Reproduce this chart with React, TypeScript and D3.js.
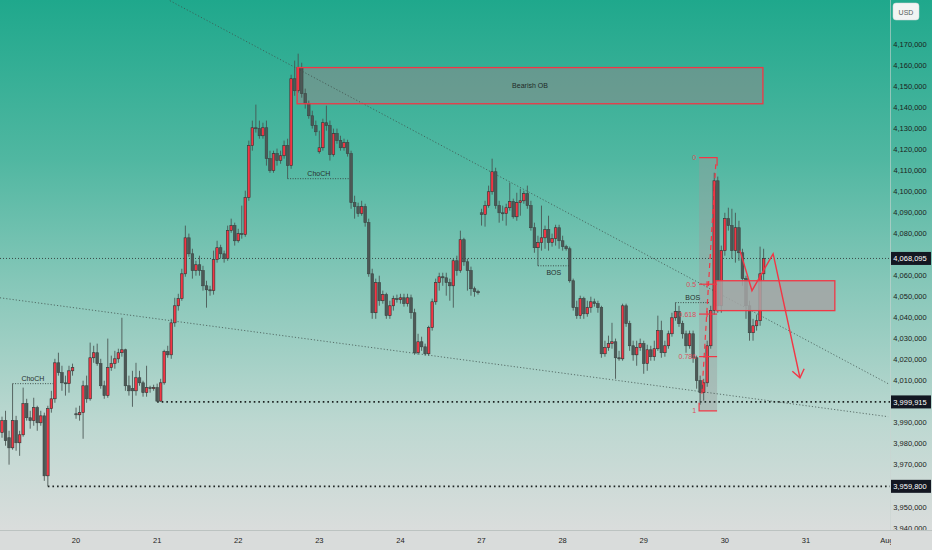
import * as d3 from "d3";
import React, { useRef, useEffect } from "react";

const width = 932;
const height = 550;
const plotRight = 890;
const plotBottom = 530;

// 1H candles, [open, high, low, close]
const day17 = [
  [3985.3, 3992.9, 3982.9, 3991.0], [3991.0, 3995.7, 3979.1, 3981.5], [3982.9, 3986.2, 3970.1, 3978.1],
  [3978.1, 4008.6, 3977.2, 3991.0], [3991.0, 3993.3, 3976.7, 3980.5], [3980.5, 3986.2, 3974.3, 3984.3],
  [3984.3, 4006.7, 3983.4, 3999.1], [3999.1, 4001.4, 3991.0, 3992.4], [3992.4, 3995.7, 3987.2, 3991.0],
  [3991.0, 4001.9, 3988.6, 3997.2], [3997.2, 3998.1, 3986.2, 3990.0], [3990.0, 3995.7, 3988.6, 3993.3],
  [3993.3, 3994.8, 3962.4, 3964.8], [3964.8, 3998.1, 3959.8, 3996.7], [3996.7, 4005.2, 3994.8, 4001.4],
  [4001.4, 4020.4, 3999.5, 4018.5], [4018.5, 4023.3, 4012.4, 4013.8], [4013.8, 4017.1, 4005.2, 4009.0],
  [4009.0, 4012.4, 4002.9, 4008.6], [4008.6, 4017.1, 4004.3, 4014.7], [4014.7, 4018.1, 4012.4, 4016.2],
];
const day20 = [
  [3994.3, 3997.2, 3991.9, 3993.8], [3993.8, 3998.1, 3991.0, 3994.8], [3994.8, 4010.0, 3982.4, 4007.6],
  [4007.6, 4012.4, 3999.5, 4001.4], [4001.4, 4028.1, 4000.5, 4020.9], [4020.9, 4026.6, 4018.5, 4023.3],
  [4023.3, 4027.6, 4017.1, 4018.1], [4018.1, 4020.4, 4006.2, 4007.6], [4007.6, 4010.0, 4001.4, 4002.9],
  [4002.9, 4030.0, 4001.9, 4016.2], [4016.2, 4021.9, 4014.7, 4018.1], [4018.1, 4024.2, 4015.7, 4020.4],
  [4020.4, 4025.2, 4018.5, 4023.3], [4023.3, 4039.9, 4021.4, 4024.7], [4024.7, 4025.2, 4005.2, 4007.6],
  [4007.6, 4012.4, 4002.9, 4005.2], [4006.2, 4014.7, 3997.6, 4005.2], [4005.2, 4018.5, 4002.9, 4011.4],
  [4011.4, 4014.7, 4007.6, 4009.0], [4009.0, 4010.0, 4002.4, 4004.3], [4004.3, 4017.1, 4002.4, 4006.7],
  [4006.7, 4007.6, 4004.3, 4006.2], [4006.2, 4008.1, 4005.2, 4006.7],
];
const day21 = [
  [4006.7, 4008.6, 3999.9, 4000.3], [4000.3, 4010.9, 4000.0, 4009.0], [4009.0, 4024.7, 4008.1, 4023.8],
  [4023.8, 4026.6, 4020.9, 4022.3], [4022.3, 4039.4, 4020.4, 4037.5], [4037.5, 4049.4, 4035.6, 4045.6],
  [4045.6, 4051.3, 4043.3, 4049.0], [4049.0, 4063.2, 4048.0, 4060.8], [4060.8, 4083.7, 4059.4, 4077.9],
  [4077.9, 4079.9, 4068.9, 4070.3], [4070.3, 4072.7, 4058.5, 4062.3], [4062.3, 4067.0, 4059.9, 4065.1],
  [4065.1, 4069.4, 4059.9, 4062.3], [4062.3, 4064.6, 4052.8, 4055.1], [4055.1, 4057.5, 4044.7, 4053.2],
  [4053.2, 4055.1, 4050.4, 4052.8], [4052.8, 4071.8, 4050.9, 4067.5], [4067.5, 4076.5, 4066.1, 4073.2],
  [4073.2, 4074.6, 4068.0, 4070.3], [4070.3, 4071.8, 4066.1, 4068.0], [4068.0, 4083.7, 4067.0, 4081.3],
  [4081.3, 4087.0, 4080.3, 4083.7], [4083.7, 4085.1, 4074.2, 4076.5],
];
const day22 = [
  [4076.5, 4082.2, 4075.6, 4079.9], [4079.9, 4093.2, 4077.5, 4079.4], [4079.4, 4100.3, 4078.4, 4097.0],
  [4097.0, 4124.1, 4095.5, 4121.7], [4121.7, 4133.6, 4119.3, 4130.2], [4130.2, 4141.2, 4127.9, 4129.8],
  [4129.8, 4133.6, 4125.0, 4126.4], [4126.4, 4132.6, 4125.0, 4130.2], [4130.2, 4133.6, 4112.2, 4115.5],
  [4115.5, 4119.3, 4108.8, 4109.8], [4109.8, 4119.3, 4108.8, 4117.9], [4117.9, 4120.3, 4112.2, 4114.6],
  [4114.6, 4119.3, 4113.1, 4116.9], [4116.9, 4124.1, 4115.5, 4121.7], [4121.7, 4125.0, 4106.0, 4112.2],
  [4112.2, 4155.4, 4110.7, 4153.5], [4153.5, 4162.1, 4145.4, 4147.8], [4147.8, 4165.4, 4146.9, 4158.8],
  [4158.8, 4161.1, 4144.5, 4146.4], [4146.4, 4148.8, 4139.3, 4141.6], [4141.6, 4143.1, 4134.5, 4135.9],
  [4135.9, 4138.3, 4129.8, 4131.2], [4131.2, 4133.6, 4126.4, 4128.3],
];
const day23 = [
  [4118.8, 4128.8, 4117.9, 4120.7], [4120.7, 4134.5, 4119.3, 4132.6], [4132.6, 4140.7, 4128.8, 4131.2],
  [4131.2, 4133.6, 4114.6, 4117.4], [4117.4, 4129.8, 4116.5, 4127.4], [4127.4, 4129.8, 4122.6, 4124.1],
  [4124.1, 4126.4, 4119.3, 4120.7], [4120.7, 4125.0, 4119.3, 4123.1], [4123.1, 4124.5, 4116.5, 4117.9],
  [4117.9, 4119.3, 4091.7, 4094.6], [4094.6, 4097.9, 4087.0, 4092.7], [4092.7, 4094.6, 4087.9, 4089.4],
  [4089.4, 4095.5, 4088.4, 4092.7], [4092.7, 4094.1, 4083.2, 4085.1], [4085.1, 4087.0, 4059.4, 4060.8],
  [4060.8, 4063.2, 4039.4, 4042.3], [4042.3, 4058.5, 4039.4, 4056.6], [4056.6, 4059.9, 4045.6, 4048.0],
  [4048.0, 4052.8, 4046.6, 4050.9], [4050.9, 4051.8, 4039.4, 4040.9], [4040.9, 4048.0, 4039.4, 4045.6],
  [4045.6, 4050.4, 4043.3, 4049.0], [4049.0, 4050.9, 4047.1, 4048.5],
];
const day24 = [
  [4048.5, 4051.3, 4046.6, 4049.4], [4049.4, 4051.3, 4045.2, 4046.6], [4046.6, 4051.3, 4045.2, 4049.4],
  [4049.4, 4050.9, 4039.4, 4042.3], [4042.3, 4044.2, 4022.3, 4023.3], [4023.3, 4032.3, 4022.3, 4028.5],
  [4028.5, 4030.9, 4024.2, 4026.1], [4026.1, 4027.6, 4021.9, 4022.8], [4022.8, 4036.1, 4021.9, 4035.2],
  [4035.2, 4049.0, 4033.8, 4047.5], [4047.5, 4058.5, 4046.1, 4056.6], [4056.6, 4061.3, 4052.8, 4059.4],
  [4059.4, 4061.3, 4055.1, 4058.9], [4058.9, 4061.3, 4050.4, 4056.6], [4056.6, 4058.5, 4048.0, 4055.1],
  [4055.1, 4068.0, 4044.7, 4067.0], [4067.0, 4069.4, 4059.9, 4062.3], [4062.3, 4081.3, 4061.3, 4077.0],
  [4077.0, 4077.9, 4064.6, 4066.5], [4066.5, 4068.0, 4052.8, 4062.3], [4062.3, 4064.2, 4050.4, 4053.7],
  [4053.7, 4054.7, 4049.9, 4052.3], [4052.3, 4053.2, 4050.9, 4051.8],
];
const day27 = [
  [4089.8, 4091.7, 4083.7, 4088.9], [4088.9, 4095.5, 4083.2, 4093.2], [4093.2, 4102.7, 4092.2, 4099.8],
  [4099.8, 4115.5, 4098.4, 4109.3], [4109.3, 4111.2, 4091.7, 4093.2], [4093.2, 4095.5, 4085.1, 4089.8],
  [4089.8, 4093.2, 4086.0, 4089.4], [4089.4, 4094.1, 4083.7, 4092.2], [4092.2, 4104.1, 4090.8, 4095.1],
  [4095.1, 4096.5, 4087.0, 4087.9], [4087.9, 4099.3, 4086.0, 4094.6], [4094.6, 4101.2, 4088.4, 4095.5],
  [4095.5, 4100.3, 4094.1, 4098.9], [4098.9, 4102.7, 4091.7, 4093.2], [4093.2, 4095.5, 4081.3, 4082.7],
  [4082.7, 4085.1, 4070.8, 4073.2], [4073.2, 4078.9, 4064.6, 4075.6], [4075.6, 4093.2, 4071.8, 4077.9],
  [4077.9, 4083.7, 4072.7, 4081.8], [4081.8, 4088.4, 4071.8, 4075.6], [4075.6, 4079.9, 4073.7, 4077.5],
  [4077.5, 4084.1, 4074.2, 4082.7], [4082.7, 4084.1, 4072.7, 4076.5],
];
const day28 = [
  [4076.5, 4078.9, 4071.8, 4073.7], [4073.7, 4074.6, 4071.8, 4072.7], [4072.7, 4073.7, 4056.6, 4057.5],
  [4057.5, 4058.5, 4043.3, 4044.7], [4044.7, 4048.0, 4039.4, 4040.9], [4040.9, 4050.4, 4039.4, 4049.0],
  [4049.0, 4049.9, 4039.4, 4041.8], [4041.8, 4048.0, 4040.4, 4044.7], [4044.7, 4049.9, 4042.3, 4047.5],
  [4047.5, 4049.0, 4045.2, 4046.6], [4046.6, 4048.0, 4042.3, 4044.7], [4044.7, 4045.6, 4020.9, 4022.8],
  [4022.8, 4029.0, 4021.4, 4025.7], [4025.7, 4031.4, 4024.2, 4027.6], [4027.6, 4037.5, 4025.2, 4028.5],
  [4028.5, 4030.0, 4010.9, 4020.9], [4020.9, 4024.2, 4019.5, 4020.4], [4020.4, 4046.6, 4019.5, 4045.6],
  [4045.6, 4046.6, 4035.6, 4037.1], [4037.1, 4038.5, 4024.2, 4026.6], [4026.6, 4029.0, 4019.5, 4022.3],
  [4022.3, 4029.0, 4017.1, 4025.7], [4025.7, 4030.0, 4024.2, 4027.6],
];
const day29 = [
  [4027.6, 4029.0, 4013.3, 4018.1], [4018.1, 4027.1, 4014.7, 4024.7], [4024.7, 4026.6, 4019.5, 4021.4],
  [4021.4, 4029.0, 4019.5, 4025.2], [4025.2, 4040.9, 4024.2, 4033.8], [4033.8, 4038.5, 4020.9, 4023.3],
  [4023.3, 4029.0, 4021.4, 4026.6], [4026.6, 4033.8, 4025.2, 4032.3], [4032.3, 4042.3, 4030.9, 4039.9],
  [4039.9, 4047.1, 4038.5, 4042.8], [4042.8, 4045.6, 4035.6, 4037.1], [4037.1, 4038.5, 4030.0, 4032.3],
  [4032.3, 4033.8, 4023.3, 4026.6], [4026.6, 4033.8, 4025.2, 4032.3], [4032.3, 4033.8, 4018.5, 4020.9],
  [4020.9, 4021.9, 4006.2, 4010.0], [4010.0, 4012.4, 3998.6, 4004.3], [4004.3, 4010.9, 4000.5, 4009.0],
  [4009.0, 4029.0, 4007.1, 4026.6], [4026.6, 4045.6, 4025.2, 4043.3], [4043.3, 4108.8, 4041.4, 4105.0],
  [4105.0, 4107.0, 4042.3, 4045.6], [4045.6, 4074.2, 4042.3, 4071.8],
];
const day30 = [
  [4071.8, 4089.8, 4069.4, 4087.0], [4087.0, 4092.2, 4081.3, 4083.7], [4083.7, 4091.7, 4068.0, 4071.8],
  [4071.8, 4089.8, 4066.1, 4082.7], [4082.7, 4086.0, 4067.0, 4070.8], [4070.8, 4072.7, 4055.1, 4058.5],
  [4058.5, 4059.9, 4039.4, 4045.6], [4045.6, 4048.0, 4029.0, 4032.8], [4032.8, 4039.4, 4029.0, 4036.1],
  [4036.1, 4041.4, 4033.8, 4038.5], [4038.5, 4073.7, 4036.1, 4060.8], [4060.8, 4072.7, 4057.5, 4068.095],
];

const sessions = [
  { label: "", candles: day17 },
  { label: "20", candles: day20 },
  { label: "21", candles: day21 },
  { label: "22", candles: day22 },
  { label: "23", candles: day23 },
  { label: "24", candles: day24 },
  { label: "27", candles: day27 },
  { label: "28", candles: day28 },
  { label: "29", candles: day29 },
  { label: "30", candles: day30 },
];
const futureLabels = ["31", "Aug"];
const barsPerSession = 23;

const priceTicks = d3.range(3940, 4171, 10);
const lastPrice = 4068.095;
const markedLevels = [
  { price: 3999.915, from: 44 },
  { price: 3959.8, from: 13 },
];

// drawings, in [bar index, price]
const upperTrend = [[47.6, 4190.6], [251.3, 4008.6]];
const lowerTrend = [[-0.6, 4049.4], [251.3, 3992.9]];
const bearishOB = { i0: 83.7, i1: 215.8, top: 4158.8, bottom: 4141.6 };
const demandBox = { i0: 202.5, i1: 236.2, top: 4057.5, bottom: 4043.3 };
const fibRange = { i0: 197.7, i1: 202.8, high: 4116.0, low: 3995.7 };
const fibLevels = [0, 0.5, 0.618, 0.786, 1];
const fibLabels = ["0", "0.5", "0.618", "0.786", "1"];
const fibLine = [[198.5, 4003.8], [202.5, 4114.6]];
const structure = [
  { label: "ChoCH", i0: 3, i1: 14.5, price: 4008.6, above: true },
  { label: "ChoCH", i0: 81, i1: 98.7, price: 4106.0, above: true },
  { label: "BOS", i0: 152, i1: 161, price: 4064.6, above: false },
  { label: "BOS", i0: 191, i1: 200.8, price: 4047.1, above: true },
];
const projection = [[209.3, 4071.8], [212.7, 4052.8], [218.7, 4070.3], [226.3, 4011.4]];

const red = "#f23645";
const font = "'Liberation Sans', Arial, sans-serif";

export default function App() {
  const ref = useRef<SVGSVGElement>(null);

  useEffect(() => {
    const svg = d3.select(ref.current);
    svg.selectAll("*").remove();
    svg.attr("width", width).attr("height", height).style("font-family", font);

    const candles: number[][] = sessions.flatMap((s) => s.candles);
    const ticks: { label: string; i: number }[] = [];
    let n = 0;
    sessions.forEach((s) => {
      if (s.label) ticks.push({ label: s.label, i: n });
      n += s.candles.length;
    });
    let next = ticks[ticks.length - 1].i;
    futureLabels.forEach((l) => {
      next += barsPerSession;
      ticks.push({ label: l, i: next });
    });

    const x = d3.scaleLinear().domain([0, 251]).range([2, 2 + 251 * 3.526]);
    const y = d3.scaleLinear().domain([3940, 4170]).range([528, 44]);

    // background
    const defs = svg.append("defs");
    const grad = defs
      .append("linearGradient")
      .attr("id", "bg")
      .attr("x1", 0).attr("y1", 0).attr("x2", 0).attr("y2", 1);
    [
      [0, "#1fa88c"],
      [0.3, "#50b7a1"],
      [0.55, "#89c8ba"],
      [0.8, "#bdd8d1"],
      [1, "#dadddc"],
    ].forEach(([o, c]) => grad.append("stop").attr("offset", o).attr("stop-color", c));
    defs.append("clipPath").attr("id", "plot")
      .append("rect").attr("width", plotRight).attr("height", plotBottom);

    svg.append("rect").attr("width", width).attr("height", plotBottom).attr("fill", "url(#bg)");

    const plot = svg.append("g").attr("clip-path", "url(#plot)");

    // fib zone + boxes (fill)
    plot.append("rect")
      .attr("x", x(fibRange.i0)).attr("y", y(fibRange.high))
      .attr("width", x(fibRange.i1) - x(fibRange.i0))
      .attr("height", y(fibRange.low) - y(fibRange.high))
      .attr("fill", "#9a9a9a").attr("fill-opacity", 0.4);

    plot.append("rect")
      .attr("x", x(bearishOB.i0)).attr("y", y(bearishOB.top))
      .attr("width", x(bearishOB.i1) - x(bearishOB.i0))
      .attr("height", y(bearishOB.bottom) - y(bearishOB.top))
      .attr("fill", "#8b8b8b").attr("fill-opacity", 0.57);

    // trend lines
    const line = d3.line<number[]>().x((d) => x(d[0])).y((d) => y(d[1]));
    [upperTrend, lowerTrend].forEach((t) => {
      plot.append("path").attr("d", line(t)).attr("fill", "none")
        .attr("stroke", "#3e4d4a").attr("stroke-opacity", 0.75)
        .attr("stroke-width", 1).attr("stroke-dasharray", "1.2,2");
    });

    // last price line
    plot.append("line")
      .attr("x1", 0).attr("x2", plotRight)
      .attr("y1", y(lastPrice)).attr("y2", y(lastPrice))
      .attr("stroke", "#3a4a47").attr("stroke-width", 1).attr("stroke-dasharray", "1,2");

    // marked lows
    markedLevels.forEach((m) => {
      plot.append("line")
        .attr("x1", x(m.from)).attr("x2", plotRight)
        .attr("y1", y(m.price)).attr("y2", y(m.price))
        .attr("stroke", "#1d2322").attr("stroke-width", 1.6).attr("stroke-dasharray", "1.6,3");
    });

    // candles
    const bw = 2.6;
    const cg = plot.append("g");
    cg.selectAll("line.wick")
      .data(candles)
      .join("line")
      .attr("class", "wick")
      .attr("x1", (d, i) => x(i)).attr("x2", (d, i) => x(i))
      .attr("y1", (d) => y(d[1])).attr("y2", (d) => y(d[2]))
      .attr("stroke", "#465250").attr("stroke-opacity", 0.85).attr("stroke-width", 1);
    cg.selectAll("rect.body")
      .data(candles)
      .join("rect")
      .attr("class", "body")
      .attr("x", (d, i) => x(i) - bw / 2)
      .attr("y", (d) => y(Math.max(d[0], d[3])))
      .attr("width", bw)
      .attr("height", (d) => Math.max(1, Math.abs(y(d[0]) - y(d[3]))))
      .attr("fill", (d) => (d[3] >= d[0] ? red : "#4d5856"))
      .attr("stroke", (d) => (d[3] >= d[0] ? "#2e3433" : "#3b4543"))
      .attr("stroke-width", 0.6);

    // box outlines
    plot.append("rect")
      .attr("x", x(bearishOB.i0)).attr("y", y(bearishOB.top))
      .attr("width", x(bearishOB.i1) - x(bearishOB.i0))
      .attr("height", y(bearishOB.bottom) - y(bearishOB.top))
      .attr("fill", "none").attr("stroke", red).attr("stroke-width", 1.3);
    plot.append("text")
      .attr("x", (x(bearishOB.i0) + x(bearishOB.i1)) / 2)
      .attr("y", (y(bearishOB.top) + y(bearishOB.bottom)) / 2 + 2.5)
      .attr("text-anchor", "middle").attr("font-size", 7).attr("fill", "#1f2a28")
      .text("Bearish OB");

    plot.append("rect")
      .attr("x", x(demandBox.i0)).attr("y", y(demandBox.top))
      .attr("width", x(demandBox.i1) - x(demandBox.i0))
      .attr("height", y(demandBox.bottom) - y(demandBox.top))
      .attr("fill", "#a4a4a4").attr("fill-opacity", 0.85)
      .attr("stroke", red).attr("stroke-width", 1.3);

    // structure breaks
    structure.forEach((s) => {
      plot.append("line")
        .attr("x1", x(s.i0)).attr("x2", x(s.i1))
        .attr("y1", y(s.price)).attr("y2", y(s.price))
        .attr("stroke", "#344240").attr("stroke-width", 0.9).attr("stroke-dasharray", "1,1.5");
      plot.append("text")
        .attr("x", (x(s.i0) + x(s.i1)) / 2)
        .attr("y", y(s.price) + (s.above ? -3 : 9))
        .attr("text-anchor", "middle").attr("font-size", 7).attr("fill", "#26302e")
        .text(s.label);
    });

    // fib tool
    const fx0 = x(fibRange.i0);
    const fx1 = x(fibRange.i1);
    const fy = (r: number) => y(fibRange.high - (fibRange.high - fibRange.low) * r);
    const fg = plot.append("g").attr("stroke", red).attr("stroke-width", 1.2);
    fg.append("path").attr("fill", "none")
      .attr("d", `M${fx0},${fy(0)}H${fx1}V${fy(0) + 8}`);
    fg.append("path").attr("fill", "none")
      .attr("d", `M${fx0},${fy(1) - 8}V${fy(1)}H${fx1}`);
    fibLevels.slice(1, 4).forEach((r) => {
      fg.append("line").attr("x1", fx0).attr("x2", fx1).attr("y1", fy(r)).attr("y2", fy(r));
      fg.append("line").attr("x1", fx0 + 8).attr("x2", fx0 + 8).attr("y1", fy(r) - 3).attr("y2", fy(r) + 3);
    });
    plot.append("path").attr("d", line(fibLine)).attr("fill", "none")
      .attr("stroke", red).attr("stroke-width", 1.2).attr("stroke-dasharray", "5,4");
    fibLevels.forEach((r, k) => {
      plot.append("text")
        .attr("x", fx0 - 3).attr("y", fy(r) + 2.5)
        .attr("text-anchor", "end").attr("font-size", 7).attr("fill", "#d9505c")
        .text(fibLabels[k]);
    });

    // projected path
    const pts = projection.map((p) => [x(p[0]), y(p[1])]);
    plot.append("path")
      .attr("d", d3.line()(pts as [number, number][]))
      .attr("fill", "none").attr("stroke", red).attr("stroke-width", 1.4);
    const [tx, ty] = pts[pts.length - 1];
    const [px, py] = pts[pts.length - 2];
    const ang = Math.atan2(ty - py, tx - px) + Math.PI;
    const wing = (a: number) => [tx + 10 * Math.cos(a), ty + 10 * Math.sin(a)];
    const w1 = wing(ang - 0.65);
    const w2 = wing(ang + 0.65);
    plot.append("path")
      .attr("d", `M${w1[0]},${w1[1]}L${tx},${ty}L${w2[0]},${w2[1]}`)
      .attr("fill", "none").attr("stroke", red).attr("stroke-width", 1.4);

    // price axis
    svg.append("line")
      .attr("x1", plotRight + 0.5).attr("x2", plotRight + 0.5)
      .attr("y1", 0).attr("y2", height)
      .attr("stroke", "#c9d3d0").attr("stroke-opacity", 0.6);
    const fmt = (v: number) => d3.format(",")(Math.round(v * 1000));
    const boxed = [lastPrice, ...markedLevels.map((m) => m.price)];
    const freeTicks = priceTicks.filter(
      (t) => boxed.every((p) => Math.abs(y(t) - y(p)) > 11)
    );
    svg.append("g")
      .selectAll("text")
      .data(freeTicks)
      .join("text")
      .attr("x", 910).attr("y", (d) => y(d) + 2.6)
      .attr("text-anchor", "middle").attr("font-size", 7.5).attr("fill", "#1b2220")
      .text((d) => fmt(d));
    boxed.forEach((p) => {
      svg.append("rect")
        .attr("x", plotRight + 1).attr("y", y(p) - 6.5)
        .attr("width", width - plotRight - 2).attr("height", 13)
        .attr("fill", "#131722");
      svg.append("text")
        .attr("x", 910).attr("y", y(p) + 2.6)
        .attr("text-anchor", "middle").attr("font-size", 7.5).attr("fill", "#ffffff")
        .text(fmt(p));
    });
    svg.append("rect")
      .attr("x", 893).attr("y", 3).attr("width", 26).attr("height", 17).attr("rx", 3)
      .attr("fill", "#f1f4f3").attr("stroke", "#d0d6d4").attr("stroke-width", 0.5);
    svg.append("text")
      .attr("x", 906).attr("y", 14.5).attr("text-anchor", "middle")
      .attr("font-size", 7).attr("fill", "#555c5a").text("USD");

    // time axis
    svg.append("rect")
      .attr("x", 0).attr("y", plotBottom).attr("width", width).attr("height", height - plotBottom)
      .attr("fill", "#d9dcdb");
    svg.append("line")
      .attr("x1", 0).attr("x2", width).attr("y1", plotBottom + 0.5).attr("y2", plotBottom + 0.5)
      .attr("stroke", "#bcc3c1");
    svg.append("g")
      .selectAll("text")
      .data(ticks)
      .join("text")
      .attr("x", (d) => x(d.i)).attr("y", 543)
      .attr("text-anchor", "middle").attr("font-size", 7.5).attr("fill", "#1b2220")
      .text((d) => d.label);
    svg.append("rect")
      .attr("x", plotRight + 1).attr("y", plotBottom + 1)
      .attr("width", width - plotRight).attr("height", height - plotBottom)
      .attr("fill", "#d9dcdb");
  }, []);

  return <svg ref={ref} style={{ position: "fixed", left: 0, top: 0 }} />;
}
